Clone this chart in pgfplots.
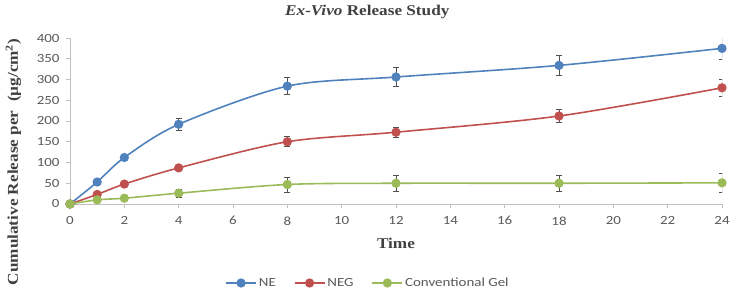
\documentclass[border=0pt]{standalone}
\usepackage{fontspec}
\setmainfont{Liberation Serif}
\newfontfamily\tickfont[FakeStretch=1.2]{Carlito}
\newfontfamily\labfont[FakeStretch=1.15]{Liberation Serif}
\usepackage{pgfplots}
\pgfplotsset{compat=1.18}
\definecolor{neblue}{RGB}{79,129,189}
\definecolor{negred}{RGB}{192,80,77}
\definecolor{cggreen}{RGB}{155,187,89}
\definecolor{tickgray}{RGB}{89,89,89}
\definecolor{axgray}{RGB}{191,191,191}
\definecolor{labgray}{RGB}{64,64,64}
\definecolor{errgray}{RGB}{80,80,80}
\begin{document}
\begin{tikzpicture}
\begin{axis}[
  scale only axis, width=652bp, height=166bp,
  xmin=0, xmax=24, ymin=0, ymax=400,
  xtick={0,2,...,24}, ytick={0,50,...,400},
  axis x line*=bottom, axis y line*=left,
  x axis line style={-}, y axis line style={-},
  axis line style={axgray, line width=0.8pt},
  tick style={axgray, line width=0.8pt}, tick align=outside, major tick length=4bp,
  /pgf/number format/assume math mode=true,
  ticklabel style={font=\tickfont\fontsize{12.5}{14}\selectfont, text=tickgray},
  xticklabel style={yshift=-5bp},
  yticklabel style={xshift=-3bp},
  title={\labfont\bfseries\textit{Ex-Vivo} Release Study},
  title style={at={(axis description cs:0.456,1)}, anchor=center, yshift=20bp, font=\fontsize{15}{17}\selectfont, text=labgray},
  xlabel={\labfont\bfseries Time},
  xlabel style={at={(axis description cs:0.5,0)}, anchor=center, yshift=-39bp, font=\fontsize{15}{17}\selectfont, text=labgray},
  ylabel={\labfont\bfseries Cumulative Release per\ \ (µg/cm\textsuperscript{2})},
  ylabel style={at={(axis description cs:-0.0867,0.253)}, anchor=center, font=\fontsize{15}{17}\selectfont, text=labgray},
  legend style={at={(axis description cs:0.457,0)}, anchor=center, yshift=-79bp, draw=none, fill=none,
    legend columns=3, font=\tickfont\fontsize{12.5}{14}\selectfont, text=tickgray,
    /tikz/every even column/.append style={column sep=16bp}},
  legend image code/.code={\draw[mark repeat=2,mark phase=2] plot coordinates {(0bp,0bp) (15bp,0bp) (30bp,0bp)};},
  every axis plot/.append style={line width=1.6pt, smooth, tension=0.5, mark=*, mark size=3.8bp},
  error bars/y dir=both, error bars/y explicit,
  error bars/error bar style={errgray, line width=0.8pt},
  error bars/error mark options={rotate=90, mark size=3bp, errgray, line width=0.8pt},
]
\addplot[neblue, mark options={fill=neblue, draw=neblue}] coordinates {
 (0,0) +- (0,0)
 (1,53) +- (0,3)
 (2,112) +- (0,5)
 (4,192) +- (0,14)
 (8,284) +- (0,20)
 (12,306) +- (0,22)
 (18,334) +- (0,24)
 (24,375) +- (0,26)
};
\addlegendentry{NE}
\addplot[negred, mark options={fill=negred, draw=negred}] coordinates {
 (0,0) +- (0,0)
 (1,23) +- (0,2)
 (2,48) +- (0,3)
 (4,87) +- (0,4)
 (8,150) +- (0,12)
 (12,173) +- (0,12)
 (18,212) +- (0,15)
 (24,280) +- (0,20)
};
\addlegendentry{NEG}
\addplot[cggreen, mark options={fill=cggreen, draw=cggreen}] coordinates {
 (0,0) +- (0,0)
 (1,10) +- (0,1)
 (2,14) +- (0,2)
 (4,26) +- (0,10)
 (8,47) +- (0,18)
 (12,50) +- (0,20)
 (18,50) +- (0,20)
 (24,51) +- (0,23)
};
\addlegendentry{Conventional Gel}
\end{axis}
\pgfresetboundingbox
\path (-70bp,-88bp) rectangle (663bp,204bp);
\end{tikzpicture}
\end{document}
